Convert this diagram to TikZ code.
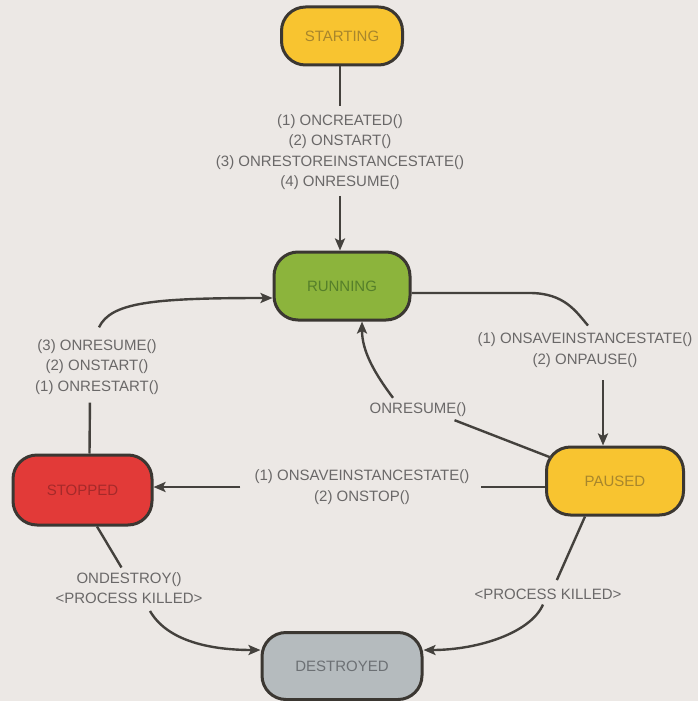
\documentclass[tikz,border=0pt]{standalone}
\usepackage{fontspec}
\setmainfont{Liberation Sans}
\usetikzlibrary{arrows.meta}
\definecolor{bgc}{HTML}{ECE8E5}
\definecolor{edgec}{HTML}{3B3732}
\definecolor{linec}{HTML}{44413D}
\definecolor{labc}{HTML}{6A6868}
\definecolor{yel}{HTML}{F8C430}
\definecolor{yeltxt}{HTML}{A8862C}
\definecolor{grn}{HTML}{8CB43C}
\definecolor{grntxt}{HTML}{557F2A}
\definecolor{rd}{HTML}{E23A38}
\definecolor{rdtxt}{HTML}{A52A2A}
\definecolor{gry}{HTML}{B5BBBE}
\definecolor{grytxt}{HTML}{6C7074}
\begin{document}
\begin{tikzpicture}[x=1pt,y=-1pt,
  state/.style={draw=edgec, line width=3pt, rounded corners=24pt,
    font=\fontsize{15}{18}\selectfont, inner sep=0pt},
  lab/.style={text=labc, font=\fontsize{15}{20.5}\selectfont, align=center, inner sep=2pt},
  conn/.style={draw=linec, line width=2.4pt},
  arr/.style={conn, -{Stealth[length=12pt,width=10pt,inset=2.5pt]}}]
\fill[bgc] (0,0) rectangle (698,701);
\useasboundingbox (0,0) rectangle (698,701);
% states
\node[state, fill=yel, text=yeltxt, minimum width=121pt, minimum height=58pt] (start) at (342,36) {STARTING};
\node[state, fill=grn, text=grntxt, minimum width=136pt, minimum height=68pt] (run) at (342,286) {RUNNING};
\node[state, fill=yel, text=yeltxt, minimum width=137pt, minimum height=68pt] (pause) at (615,481) {PAUSED};
\node[state, fill=rd, text=rdtxt, minimum width=139pt, minimum height=70pt] (stop) at (82.5,490) {STOPPED};
\node[state, fill=gry, text=grytxt, minimum width=160pt, minimum height=67pt] (dest) at (342,666) {DESTROYED};
% labels
\node[lab] (l1) at (340,152) {(1) ONCREATED()\\(2) ONSTART()\\(3) ONRESTOREINSTANCESTATE()\\(4) ONRESUME()};
\node[lab] (l2) at (585,350) {(1) ONSAVEINSTANCESTATE()\\(2) ONPAUSE()};
\node[lab] (l3) at (418,410) {ONRESUME()};
\node[lab] (l4) at (362,487) {(1) ONSAVEINSTANCESTATE()\\(2) ONSTOP()};
\node[lab] (l5) at (97,367) {(3) ONRESUME()\\(2) ONSTART()\\(1) ONRESTART()};
\node[lab] (l6) at (129,588) {ONDESTROY()\\<PROCESS KILLED>};
\node[lab] (l7) at (548,594) {<PROCESS KILLED>};
% connectors
\draw[conn, shorten >=6pt] (start.south -| l1) -- (l1);
\draw[arr, shorten <=4pt] (l1) -- (l1 |- run.north);
\draw[conn] ([yshift=-7pt]run.east) -- ++(118,0)
  .. controls +(35,0) and +(-12,-14) .. ([shift={(3,-5)}]l2.north);
\draw[arr, shorten <=11pt] ([xshift=18pt]l2.south) -- ([xshift=-12pt]pause.north);
\draw[conn] ([shift={(-63,-23)}]pause.center) -- ([shift={(-14,1)}]l3.south east);
\draw[arr] ([shift={(-25,-3)}]l3.north)
  .. controls +(-18,-24) and +(0,30) .. ([xshift=20pt]run.south);
\draw[conn, shorten >=9pt] (pause.west |- l4) -- (l4);
\draw[arr] ([xshift=-12pt]l4.west) -- (l4 -| stop.east);
\draw[conn, shorten >=6pt] ([xshift=7pt]stop.north) -- ([xshift=-7pt]l5.south);
\draw[arr] ([shift={(2,-10)}]l5.north)
  .. controls +(12,-25) and +(-120,0) .. ([yshift=-12pt]run.west);
\draw[conn, shorten >=3pt] ([xshift=14.5pt]stop.south) -- ([xshift=-6pt]l6.north);
\draw[arr] ([shift={(21,5)}]l6.south)
  .. controls +(16,28) and +(-55,0) .. ([yshift=16pt]dest.west);
\draw[conn, shorten >=7pt] ([xshift=-30pt]pause.south) -- ([xshift=6pt]l7.north);
\draw[arr] ([shift={(-5,3)}]l7.south)
  .. controls +(-12,28) and +(55,0) .. ([yshift=16pt]dest.east);
\end{tikzpicture}
\end{document}
